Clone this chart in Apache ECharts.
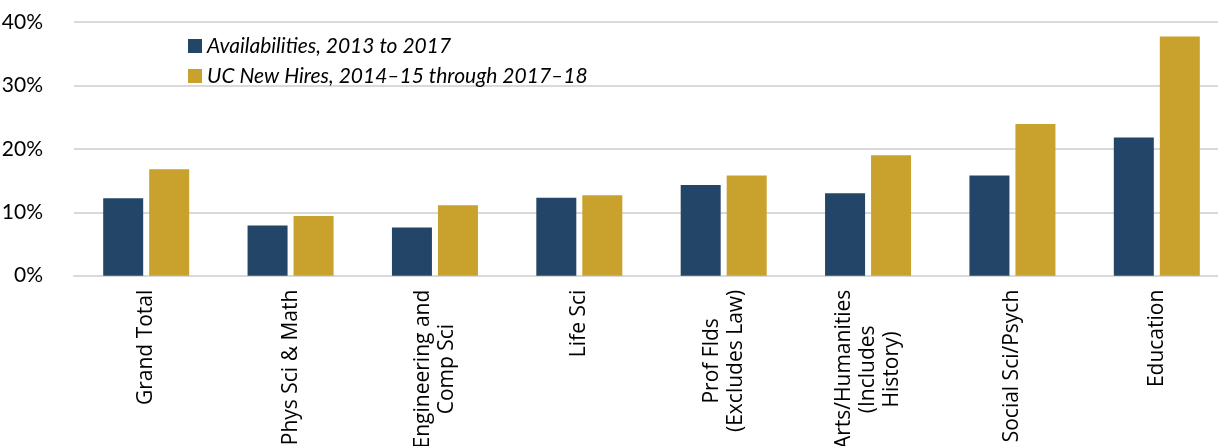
<!DOCTYPE html>
<html>
<head>
<meta charset="utf-8">
<style>
  html, body { margin: 0; padding: 0; background: #ffffff; }
  #chart { width: 1218px; height: 446px; }
</style>
<script src="https://cdn.jsdelivr.net/npm/echarts@6/dist/echarts.min.js"></script>
</head>
<body>
<div id="chart"></div>
<script>
// Share of faculty by discipline group (percent)
const categories = [
  'Grand Total',
  'Phys Sci & Math',
  'Engineering and\nComp Sci',
  'Life Sci',
  'Prof Flds\n(Excludes Law)',
  'Arts/Humanities\n(Includes\nHistory)',
  'Social Sci/Psych',
  'Education'
];
const seriesNames = ['Availabilities, 2013 to 2017', 'UC New Hires, 2014\u201315 through 2017\u201318'];
const availabilities = [12.2, 7.9, 7.6, 12.3, 14.3, 13.0, 15.8, 21.8];
const newHires = [16.8, 9.4, 11.1, 12.7, 15.8, 19.0, 23.9, 37.7];
const yTicks = [0, 10, 20, 30, 40];

const NAVY = '#234567';
const GOLD = '#C9A12D';
const GRID = '#d9d9d9';
const LABEL_FONT = '"Open Sans", sans-serif';

const chart = echarts.init(document.getElementById('chart'));
chart.setOption({
  animation: false,
  backgroundColor: '#ffffff',
  // plot area runs slightly past the right edge of the canvas
  grid: { left: 74, width: 1155, top: 22, bottom: 170.3, containLabel: false, outerBoundsMode: 'none' },
  legend: {
    orient: 'vertical',
    left: 188,
    top: 35,
    padding: 0,
    itemWidth: 14,
    itemHeight: 14,
    itemGap: 8,
    icon: 'rect',
    data: seriesNames,
    textStyle: {
      fontFamily: 'Lato',
      fontStyle: 'italic',
      fontSize: 21,
      lineHeight: 22,
      color: '#000000'
    }
  },
  xAxis: {
    type: 'category',
    data: categories,
    axisLine: { show: true, lineStyle: { color: GRID, width: 2 } },
    axisTick: { show: false },
    axisLabel: {
      interval: 0,
      rotate: 90,
      margin: 14,
      fontFamily: LABEL_FONT,
      fontSize: 21,
      lineHeight: 24,
      color: '#000000',
      // one rich fragment per line so wrapped lines are centred on each other
      formatter: function (v) {
        return v.split('\n').map(function (line) { return '{c|' + line + '}'; }).join('\n');
      },
      rich: {
        c: {
          align: 'center',
          fontFamily: LABEL_FONT,
          fontSize: 21,
          lineHeight: 24,
          color: '#000000'
        }
      }
    }
  },
  yAxis: {
    type: 'value',
    min: yTicks[0],
    max: yTicks[yTicks.length - 1],
    interval: 10,
    axisLine: { show: false },
    axisTick: { show: false },
    splitLine: { show: true, lineStyle: { color: GRID, width: 2 } },
    axisLabel: {
      margin: 31,
      formatter: '{value}%',
      fontFamily: 'Lato',
      fontSize: 21,
      color: '#000000'
    }
  },
  series: [
    {
      name: seriesNames[0],
      type: 'bar',
      data: availabilities,
      barWidth: 40,
      barGap: '15%',
      itemStyle: { color: NAVY }
    },
    {
      name: seriesNames[1],
      type: 'bar',
      data: newHires,
      barWidth: 40,
      barGap: '15%',
      itemStyle: { color: GOLD }
    }
  ]
});
</script>
</body>
</html>
